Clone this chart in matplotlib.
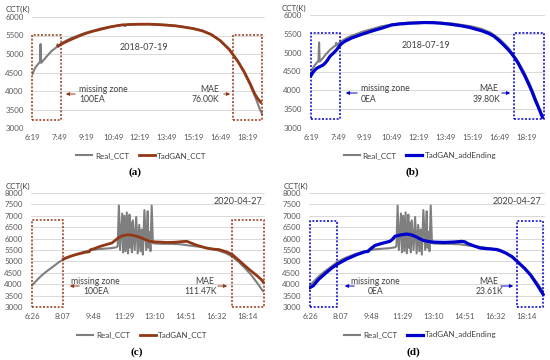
import matplotlib
matplotlib.use("Agg")
import matplotlib.pyplot as plt
from matplotlib.patches import Rectangle, FancyArrowPatch

# ---------------- data ----------------
# 2018-07-19 (minutes after 6:19)
t_real18 = [0, 5, 10, 16, 22, 25, 27, 29, 32, 40, 48, 56, 64, 72, 78, 82, 84, 86, 90, 100,
            115, 130, 150, 170, 190, 210, 230, 250, 270, 290, 305, 310, 315, 330, 360, 390,
            420, 450, 480, 510, 540, 570, 600, 630, 660, 690, 710, 730, 750, 762, 770]
real18 = [4460, 4560, 4640, 4700, 4760, 4780, 5270, 4760, 4790, 4860, 4940, 5010, 5080, 5130,
          5170, 5190, 5260, 5200, 5230, 5300, 5370, 5430, 5490, 5550, 5600, 5640, 5690, 5720,
          5750, 5770, 5790, 5750, 5790, 5800, 5805, 5810, 5800, 5785, 5765, 5730, 5690, 5630,
          5530, 5360, 5120, 4780, 4500, 4170, 3780, 3520, 3380]

t_tg18 = [87, 95, 105, 120, 140, 160, 180, 200, 220, 240, 260, 280, 300, 320, 340, 360, 390,
          420, 450, 480, 510, 540, 570, 600, 630, 660, 690, 710, 730, 745, 755, 765]
tadgan18 = [5220, 5260, 5300, 5360, 5430, 5500, 5560, 5610, 5650, 5690, 5730, 5760, 5785,
            5795, 5800, 5805, 5805, 5795, 5780, 5760, 5725, 5685, 5625, 5525, 5360, 5125,
            4790, 4520, 4200, 3930, 3800, 3700]

t_add18 = [0, 5, 13, 20, 30, 40, 47, 55, 63, 75, 86, 95, 102, 115, 136, 160, 180, 210, 236,
           269, 300, 325, 355, 380, 410, 436, 470, 503, 530, 547, 570, 592, 610, 625, 640,
           659, 670, 681, 692, 703, 714, 725, 737, 748, 760, 772]
addend18 = [4390, 4460, 4540, 4590, 4630, 4670, 4720, 4800, 4900, 4990, 5080, 5180, 5240,
            5310, 5390, 5460, 5515, 5590, 5650, 5735, 5765, 5780, 5790, 5800, 5795, 5780,
            5750, 5710, 5670, 5630, 5580, 5515, 5440, 5340, 5230, 5075, 4970, 4850, 4710,
            4545, 4380, 4190, 3980, 3750, 3530, 3290]

# 2020-04-27 (minutes after 6:26)
t_real20 = [0, 10, 20, 30, 45, 60, 75, 90, 105, 120, 135, 150, 165, 180, 200, 220, 240, 260,
            278, 282, 286, 290, 297, 300, 304, 308, 312, 316, 321, 323, 326, 329, 332, 338,
            343, 348, 353, 357, 361, 365, 370, 376, 381, 383, 386, 390, 394, 398, 410, 430,
            460, 490, 515, 540, 565, 590, 620, 640, 660, 680, 700, 720, 740, 760]
real20 = [3950, 4090, 4230, 4360, 4530, 4680, 4830, 4980, 5090, 5180, 5260, 5330, 5390, 5450,
          5510, 5540, 5560, 5580, 5620, 5660, 7450, 5500, 7100, 5400, 7000, 5450, 7150, 5350,
          7050, 5600, 6700, 5400, 6800, 5500, 6950, 5350, 6600, 5450, 6400, 5300, 7250, 5500,
          7200, 5600, 6300, 5450, 7450, 5800, 5780, 5770, 5770, 5750, 5700, 5660, 5620, 5560,
          5450, 5350, 5200, 4980, 4720, 4430, 4080, 3700]

t_tg20 = [103, 115, 130, 145, 160, 175, 188, 192, 205, 220, 235, 250, 262, 270, 280, 290, 300,
          315, 330, 345, 360, 372, 385, 400, 420, 445, 470, 495, 510, 525, 540, 555, 575, 595,
          615, 640, 660, 680, 700, 720, 740, 755, 762]
tadgan20 = [5100, 5170, 5240, 5300, 5350, 5400, 5420, 5510, 5560, 5640, 5700, 5760, 5800, 5880,
            5990, 6080, 6130, 6170, 6150, 6100, 6030, 5960, 5890, 5860, 5850, 5830, 5840, 5870,
            5880, 5800, 5720, 5660, 5580, 5540, 5520, 5420, 5290, 5060, 4820, 4590, 4380, 4200,
            4080]

t_add20 = [0, 3, 11, 27, 49, 71, 92, 120, 152, 179, 190, 195, 212, 239, 261, 270, 277, 295,
           315, 330, 343, 356, 370, 384, 397, 420, 440, 470, 495, 505, 516, 535, 555, 575,
           593, 610, 620, 640, 660, 680, 700, 720, 740, 761]
addend20 = [3850, 3877, 3934, 4197, 4460, 4710, 4900, 5105, 5294, 5420, 5440, 5520, 5700,
            5807, 5880, 5980, 6100, 6160, 6200, 6170, 6100, 6010, 5920, 5880, 5850, 5840,
            5833, 5850, 5877, 5860, 5775, 5680, 5588, 5560, 5544, 5520, 5480, 5360, 5200,
            4950, 4700, 4400, 4000, 3550]

ticks18 = [0, 90, 180, 270, 360, 450, 540, 630, 720]
ticklabels18 = ["6:19", "7:49", "9:19", "10:49", "12:19", "13:49", "15:19", "16:49", "18:19"]
ticks20 = [0, 101, 202, 303, 404, 505, 606, 708]
ticklabels20 = ["6:26", "8:07", "9:48", "11:29", "13:10", "14:51", "16:32", "18:14"]

# ---------------- style ----------------
FONT = "Lato"
plt.rcParams["font.family"] = [FONT, "DejaVu Sans"]
GRAY = "#7f7f7f"
BROWN = "#933816"
BLUE = "#0000cc"
TXT = "#404040"
W, H = 550, 360

fig = plt.figure(figsize=(5.5, 3.6), dpi=100)


def rect(l, t, r, b):
    return [l / W, 1 - b / H, (r - l) / W, (b - t) / H]


def P(x, y):
    return (x / W, 1 - y / H)


def panel(r, xlim, ylim, yticks, ticks, labels, tr, yr, tm, ym, mcolor, mlabel, mlw):
    ax = fig.add_axes(rect(*r))
    ax.plot(tr, yr, color=GRAY, lw=1.5, label="Real_CCT", zorder=3)
    ax.plot(tm, ym, color=mcolor, lw=mlw, label=mlabel, zorder=4)
    ax.set_xlim(*xlim)
    ax.set_ylim(*ylim)
    ax.set_yticks(yticks)
    ax.set_xticks(ticks)
    ax.set_xticklabels(labels)
    for s in ax.spines.values():
        s.set_visible(False)
    ax.grid(axis="y", color="#d9d9d9", lw=0.7)
    ax.set_axisbelow(True)
    ax.tick_params(length=0, labelsize=5.7, colors="#595959")
    ax.tick_params(axis="y", pad=6.0)
    ax.tick_params(axis="x", pad=4.2)
    return ax


def box(ax, x0, x1, y0, y1, color):
    ax.add_patch(Rectangle((x0, y0), x1 - x0, y1 - y0, fill=False, ec=color, lw=1.1,
                           ls=(0, (1.3, 1.1)), clip_on=False, zorder=5))


def arrow(x_from, x_to, y, color):
    fig.add_artist(FancyArrowPatch(
        P(x_from, y), P(x_to, y), transform=fig.transFigure, arrowstyle="-|>",
        mutation_scale=5, color=color, lw=0.7))


def txt(x, y, s, size=6.2, ha="center", color=TXT, **kw):
    fig.text(*P(x, y), s, fontsize=size, ha=ha, va="center", color=color, **kw)


def legend(ax, cx, cy):
    ax.legend(loc="center", bbox_to_anchor=P(cx, cy), bbox_transform=fig.transFigure,
              ncol=2, frameon=False, fontsize=5.8, handlelength=2.0, handletextpad=0.3,
              columnspacing=1.2, labelcolor=TXT)


y18 = list(range(3000, 6001, 500))
y20 = list(range(3000, 8001, 500))

# (a)
axA = panel((32, 17, 265, 128), (-1.7, 780), (3000, 6000), y18, ticks18, ticklabels18,
            t_real18, real18, t_tg18, tadgan18, BROWN, "TadGAN_CCT", 2.0)
box(axA, -1.5, 96, 3210, 5510, BROWN)
box(axA, 673, 771, 3210, 5510, BROWN)
arrow(78, 63, 94, BROWN)
arrow(221, 233, 94, BROWN)
txt(79, 89, "missing zone", ha="left")
txt(79, 99.5, "100EA", ha="left")
txt(219, 89, "MAE", ha="right")
txt(219.5, 99.5, "76.00K", ha="right")
txt(144, 48, "2018-07-19", size=6.5)
txt(17.5, 9.5, "CCT(K)", size=5.7)
legend(axA, 141.5, 155.5)
txt(135, 172.5, "(a)", size=8, family="Liberation Serif", weight="bold", color="black")

# (b)
axB = panel((310, 15, 545, 128), (-3.3, 781), (3000, 6000), y18, ticks18, ticklabels18,
            t_real18, real18, t_add18, addend18, BLUE, "TadGAN_addEnding", 2.3)
box(axB, 0, 97, 3235, 5520, BLUE)
box(axB, 678, 776, 3235, 5520, BLUE)
arrow(360, 343, 93, BLUE)
arrow(499, 513, 93, BLUE)
txt(361, 88.5, "missing zone", ha="left")
txt(361, 99.5, "0EA", ha="left")
txt(498, 88.5, "MAE", ha="right")
txt(500, 99.5, "39.80K", ha="right")
txt(426, 45, "2018-07-19", size=6.5)
txt(294, 8, "CCT(K)", size=5.7)
legend(axB, 420, 155.5)
txt(412.5, 172.5, "(b)", size=8, family="Liberation Serif", weight="bold", color="black")

# (c)
axC = panel((31, 193, 265, 307), (-3.3, 767), (3000, 8000), y20, ticks20, ticklabels20,
            t_real20, real20, t_tg20, tadgan20, BROWN, "TadGAN_CCT", 2.0)
box(axC, 0, 102, 3000, 6820, BROWN)
box(axC, 658, 764, 3000, 6820, BROWN)
arrow(82, 67, 286, BROWN)
arrow(215, 230, 286, BROWN)
txt(95.5, 281, "missing zone")
txt(96, 291.5, "100EA")
txt(205, 281, "MAE")
txt(201, 291.5, "111.47K")
txt(238, 202, "2020-04-27", size=6.5)
txt(17.5, 186, "CCT(K)", size=5.7)
legend(axC, 142.5, 335)
txt(137, 352, "(c)", size=8, family="Liberation Serif", weight="bold", color="black")

# (d)
axD = panel((309, 193, 545, 307), (-3.3, 767), (3000, 8000), y20, ticks20, ticklabels20,
            t_real20, real20, t_add20, addend20, BLUE, "TadGAN_addEnding", 2.3)
box(axD, 0, 88, 3000, 6790, BLUE)
box(axD, 675, 761, 3000, 6790, BLUE)
arrow(357, 342, 286, BLUE)
arrow(498, 516, 286, BLUE)
txt(375, 281, "missing zone")
txt(376, 291.5, "0EA")
txt(489, 281, "MAE")
txt(489, 291.5, "23.61K")
txt(517, 202, "2020-04-27", size=6.5)
txt(296, 186, "CCT(K)", size=5.7)
legend(axD, 420.5, 335)
txt(413, 352, "(d)", size=8, family="Liberation Serif", weight="bold", color="black")

fig.savefig("out.png", dpi=100)
